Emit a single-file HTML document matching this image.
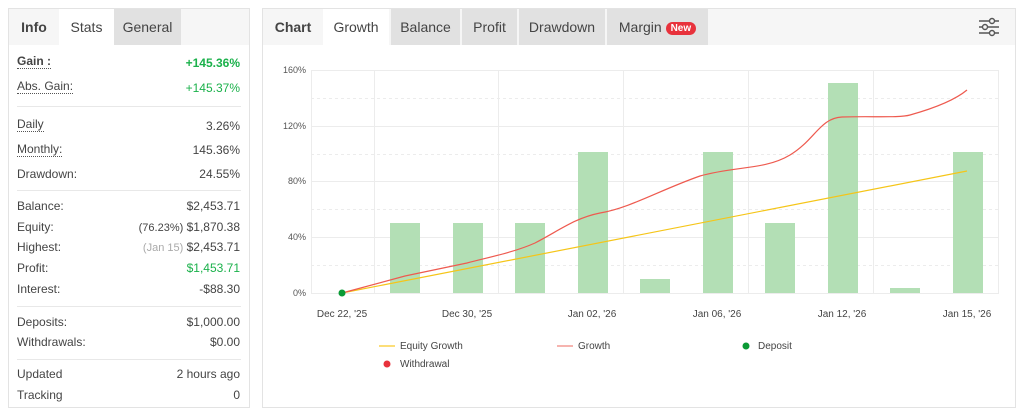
<!DOCTYPE html>
<html><head><style>
body{margin:0;width:1024px;height:413px;background:#fff;font-family:"Liberation Sans",sans-serif;position:relative;overflow:hidden;color:#333}
.p{position:absolute;border:1px solid #e3e3e3;background:#fff}
.hd{position:absolute;left:0;top:0;right:0;height:36px;background:#f6f6f6}
.tab{position:absolute;top:0;height:36px;line-height:36px;font-size:14px;text-align:center;color:#444}
.a{position:absolute;font-size:12px;color:#444;white-space:nowrap}
.r{text-align:right;right:9px}
.l{left:8px}
.u{border-bottom:1px dotted #555;line-height:14px}
.hr{position:absolute;left:8px;right:8px;height:1px;background:#e8e8e8}
.g{color:#1bb14b}
</style></head><body>
<div class="p" style="left:8px;top:8px;width:240px;height:398px">
 <div class="hd"></div>
 <div class="tab" style="left:0;width:50px;font-weight:bold">Info</div>
 <div class="tab" style="left:50px;width:55px;background:#fff">Stats</div>
 <div class="tab" style="left:105px;width:67px;background:#e1e1e1">General</div>
 <div class="a l u" style="top:45px;font-weight:bold">Gain :</div><div class="a r g" style="top:47px;font-weight:bold">+145.36%</div>
 <div class="a l u" style="top:70px">Abs. Gain:</div><div class="a r g" style="top:72px">+145.37%</div>
 <div class="hr" style="top:97px"></div>
 <div class="a l u" style="top:108px">Daily</div><div class="a r" style="top:110px">3.26%</div>
 <div class="a l u" style="top:133px">Monthly:</div><div class="a r" style="top:134px">145.36%</div>
 <div class="a l" style="top:158px">Drawdown:</div><div class="a r" style="top:158px">24.55%</div>
 <div class="hr" style="top:181px"></div>
 <div class="a l" style="top:190px">Balance:</div><div class="a r" style="top:190px">$2,453.71</div>
 <div class="a l" style="top:211px">Equity:</div><div class="a r" style="top:211px"><span style="font-size:11px">(76.23%)</span> $1,870.38</div>
 <div class="a l" style="top:231px">Highest:</div><div class="a r" style="top:231px"><span style="font-size:11px;color:#aaa">(Jan 15)</span> $2,453.71</div>
 <div class="a l" style="top:252px">Profit:</div><div class="a r g" style="top:252px">$1,453.71</div>
 <div class="a l" style="top:273px">Interest:</div><div class="a r" style="top:273px">-$88.30</div>
 <div class="hr" style="top:297px"></div>
 <div class="a l" style="top:306px">Deposits:</div><div class="a r" style="top:306px">$1,000.00</div>
 <div class="a l" style="top:326px">Withdrawals:</div><div class="a r" style="top:326px">$0.00</div>
 <div class="hr" style="top:350px"></div>
 <div class="a l" style="top:358px">Updated</div><div class="a r" style="top:358px">2 hours ago</div>
 <div class="a l" style="top:379px">Tracking</div><div class="a r" style="top:379px">0</div>
</div>
<div class="p" style="left:262px;top:8px;width:752px;height:398px">
 <div class="hd"></div>
 <div class="tab" style="left:0;width:60px;font-weight:bold">Chart</div>
 <div class="tab" style="left:60px;width:66px;background:#fff">Growth</div>
 <div class="tab" style="left:128px;width:69px;background:#e1e1e1">Balance</div>
 <div class="tab" style="left:199px;width:55px;background:#e1e1e1">Profit</div>
 <div class="tab" style="left:256px;width:86px;background:#e1e1e1">Drawdown</div>
 <div class="tab" style="left:344px;width:101px;background:#e1e1e1">Margin <span style="background:#e8323c;color:#fff;font-size:10px;font-weight:bold;border-radius:7px;padding:1px 5px;vertical-align:1px">New</span></div>
 <svg style="position:absolute;left:715px;top:8px" width="22" height="20"><g stroke="#555" stroke-width="1.4" fill="#f6f6f6"><line x1="1" y1="4" x2="21" y2="4"/><line x1="1" y1="10" x2="21" y2="10"/><line x1="1" y1="16" x2="21" y2="16"/><circle cx="14" cy="4" r="2.5"/><circle cx="7" cy="10" r="2.5"/><circle cx="14" cy="16" r="2.5"/></g></svg>
</div>
<svg style="position:absolute;left:0;top:0" width="1024" height="413" font-family="Liberation Sans,sans-serif">
 <g stroke="#ececec" stroke-width="1">
  <line x1="311" y1="70.5" x2="999" y2="70.5"/><line x1="311" y1="126.5" x2="999" y2="126.5"/><line x1="311" y1="181.5" x2="999" y2="181.5"/><line x1="311" y1="237.5" x2="999" y2="237.5"/><line x1="311" y1="293.5" x2="999" y2="293.5"/>
  <line x1="311" y1="98.5" x2="999" y2="98.5" stroke-dasharray="3,3"/><line x1="311" y1="154.5" x2="999" y2="154.5" stroke-dasharray="3,3"/><line x1="311" y1="209.5" x2="999" y2="209.5" stroke-dasharray="3,3"/><line x1="311" y1="265.5" x2="999" y2="265.5" stroke-dasharray="3,3"/>
  <line x1="311.5" y1="70" x2="311.5" y2="293"/><line x1="374.5" y1="70" x2="374.5" y2="293"/><line x1="498.5" y1="70" x2="498.5" y2="293"/><line x1="623.5" y1="70" x2="623.5" y2="293"/><line x1="748.5" y1="70" x2="748.5" y2="293"/><line x1="873.5" y1="70" x2="873.5" y2="293"/><line x1="998.5" y1="70" x2="998.5" y2="293"/>
 </g>
 <g font-size="9" fill="#555" text-anchor="end"><text x="306" y="73">160%</text><text x="306" y="129">120%</text><text x="306" y="184">80%</text><text x="306" y="240">40%</text><text x="306" y="296">0%</text></g>
 <g fill="#b3dfb5">
  <rect x="390" y="223" width="30" height="70"/><rect x="453" y="223" width="30" height="70"/><rect x="515" y="223" width="30" height="70"/><rect x="578" y="152" width="30" height="141"/><rect x="640" y="279" width="30" height="14"/><rect x="703" y="152" width="30" height="141"/><rect x="765" y="223" width="30" height="70"/><rect x="828" y="83" width="30" height="210"/><rect x="890" y="288" width="30" height="5"/><rect x="953" y="152" width="30" height="141"/>
 </g>
 <line x1="342" y1="293" x2="967" y2="171" stroke="#f5c518" stroke-width="1.2"/>
 <path d="M342,293 L405,276 L467,263 C490,257 515,252 535,243 C560,230 575,218 600,213 C630,208 660,190 700,176 C735,166 765,170 790,155 C815,140 820,118 842,117 C870,116 900,118 910,115 C935,108 955,100 967,90" fill="none" stroke="#ee5a4f" stroke-width="1.2"/>
 <circle cx="342" cy="293" r="3.5" fill="#0a9a35"/>
 <g font-size="10" fill="#444" text-anchor="middle"><text x="342" y="317">Dec 22, '25</text><text x="467" y="317">Dec 30, '25</text><text x="592" y="317">Jan 02, '26</text><text x="717" y="317">Jan 06, '26</text><text x="842" y="317">Jan 12, '26</text><text x="967" y="317">Jan 15, '26</text></g>
 <g font-size="10" fill="#444">
  <line x1="379" y1="346" x2="395" y2="346" stroke="#fbd24c" stroke-width="1.5"/><text x="400" y="349">Equity Growth</text>
  <line x1="557" y1="346" x2="573" y2="346" stroke="#f29b94" stroke-width="1.5"/><text x="578" y="349">Growth</text>
  <circle cx="746" cy="346" r="3.5" fill="#0a9a35"/><text x="758" y="349">Deposit</text>
  <circle cx="387" cy="364" r="3.5" fill="#e8323c"/><text x="400" y="367">Withdrawal</text>
 </g>
</svg>
</body></html>
